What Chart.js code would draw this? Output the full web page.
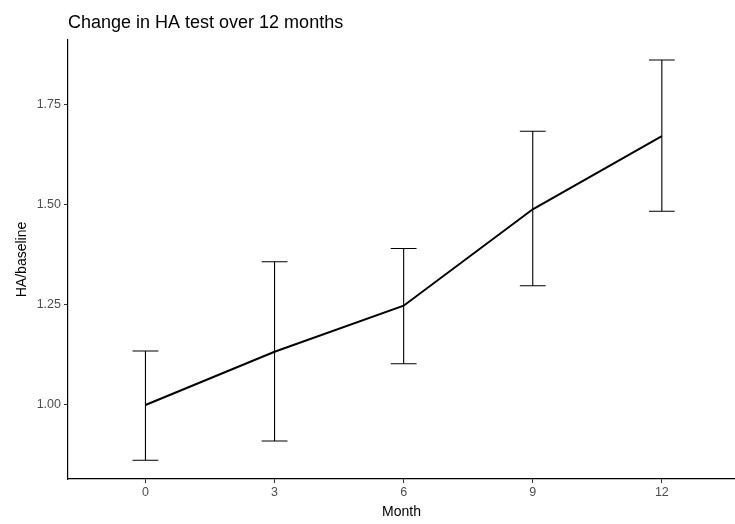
<!DOCTYPE html>
<html>
<head>
<meta charset="utf-8">
<script src="https://cdn.jsdelivr.net/npm/chart.js@4/dist/chart.umd.min.js"></script>
<style>
  html, body { margin: 0; padding: 0; background: #fff; }
  #wrap { width: 735px; height: 524px; }
</style>
</head>
<body>
<div id="wrap"><canvas id="chart"></canvas></div>
<script>
const months = [0, 3, 6, 9, 12]
const ratio = [1.000, 1.133, 1.248, 1.489, 1.672]
const upper = [1.135, 1.358, 1.391, 1.684, 1.862]
const lower = [0.862, 0.910, 1.103, 1.298, 1.484]
const yTicks = [1.00, 1.25, 1.50, 1.75]

const font = "'Liberation Sans', Arial, sans-serif"

// error bars drawn through the chart's own scales
const errorBars = {
    id: 'errorBars',
    afterDatasetsDraw(chart) {
        const { ctx, scales: { x, y } } = chart
        ctx.save()
        ctx.strokeStyle = '#000'
        ctx.lineWidth = 1.1
        months.forEach((m, i) => {
            const px = x.getPixelForValue(m)
            const left = x.getPixelForValue(m - 0.3)
            const right = x.getPixelForValue(m + 0.3)
            const top = y.getPixelForValue(upper[i])
            const bot = y.getPixelForValue(lower[i])
            ctx.beginPath()
            ctx.moveTo(px, top); ctx.lineTo(px, bot)
            ctx.moveTo(left, top); ctx.lineTo(right, top)
            ctx.moveTo(left, bot); ctx.lineTo(right, bot)
            ctx.stroke()
        })
        ctx.restore()
    }
}

new Chart(document.getElementById('chart'), {
    type: 'line',
    data: {
        datasets: [{
            label: 'HA/baseline',
            data: months.map((m, i) => ({ x: m, y: ratio[i] })),
            borderColor: '#000',
            borderWidth: 2,
            pointRadius: 0,
            tension: 0
        }]
    },
    options: {
        responsive: true,
        maintainAspectRatio: false,
        animation: false,
        scales: {
            x: {
                type: 'linear',
                min: -1.8,
                max: 13.7,
                afterBuildTicks: (s) => { s.ticks = months.map(v => ({ value: v })) },
                afterFit: (s) => { s.height = 45 },
                border: { display: true, color: '#000', width: 1.2 },
                grid: { drawOnChartArea: false, tickLength: 4, color: '#333' },
                ticks: { color: '#4d4d4d', font: { family: font, size: 12.5 }, padding: 2 },
                title: {
                    display: true,
                    text: 'Month',
                    color: '#000',
                    font: { family: font, size: 14 },
                    padding: { top: 0, bottom: 3 }
                }
            },
            y: {
                min: 0.815,
                max: 1.912,
                afterBuildTicks: (s) => { s.ticks = yTicks.map(v => ({ value: v })) },
                afterFit: (s) => { s.width = 68 },
                border: { display: true, color: '#000', width: 1.2 },
                grid: { drawOnChartArea: false, tickLength: 4, color: '#333' },
                ticks: {
                    color: '#4d4d4d',
                    font: { family: font, size: 12.5 },
                    padding: 3,
                    callback: (v) => v.toFixed(2)
                },
                title: {
                    display: true,
                    text: 'HA/baseline',
                    color: '#000',
                    font: { family: font, size: 14 },
                    padding: { top: 14, bottom: 0 }
                }
            }
        },
        plugins: {
            legend: { display: false },
            tooltip: { enabled: false },
            title: {
                display: true,
                text: 'Change in HA test over 12 months',
                align: 'start',
                fullSize: false,
                color: '#000',
                font: { family: font, size: 18, weight: 'normal' },
                padding: { top: 12, bottom: 6.4 }
            }
        }
    },
    plugins: [errorBars]
})
</script>
</body>
</html>
